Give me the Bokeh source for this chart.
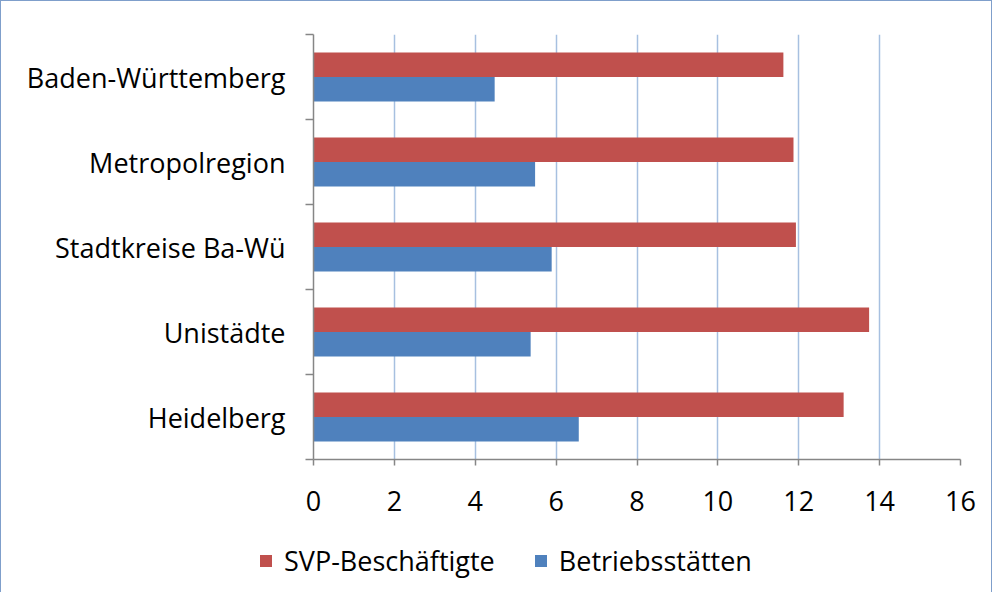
from bokeh.plotting import figure
from bokeh.layouts import column
from bokeh.models import FixedTicker, ColumnDataSource, Range1d, Div
from bokeh.transform import dodge
from bokeh.embed import file_html
from bokeh.resources import INLINE

# ---- data (bottom to top) ----
categories = ["Heidelberg", "Unistädte", "Stadtkreise Ba-Wü", "Metropolregion", "Baden-Württemberg"]
svp_beschaeftigte = [13.11, 13.74, 11.93, 11.87, 11.62]
betriebsstaetten = [6.56, 5.37, 5.89, 5.48, 4.48]
x_ticks = [0, 2, 4, 6, 8, 10, 12, 14, 16]
series_names = ["SVP-Beschäftigte", "Betriebsstätten"]
colors = ["#C0504D", "#4F81BD"]

FONT = "Open Sans"
FS = "27px"
BORDER = "1.5px solid #7f9fcb"
positions = [i + 0.5 for i in range(len(categories))]
boundaries = [i for i in range(len(categories) + 1)]

src = ColumnDataSource(dict(pos=positions, svp=svp_beschaeftigte, bet=betriebsstaetten, cat=categories))

p = figure(width=992, height=540, output_backend="svg", toolbar_location=None,
           x_range=Range1d(0, 16), y_range=Range1d(0, 5),
           min_border_left=312, min_border_right=33, min_border_top=33, min_border_bottom=82)
p.styles = {"border-top": BORDER, "border-left": BORDER, "border-right": BORDER}

bar_h = 0.288
r_svp = p.hbar(y=dodge("pos", bar_h / 2, range=p.y_range), right="svp", left=0, height=bar_h,
               source=src, fill_color=colors[0], line_color=None)
r_bet = p.hbar(y=dodge("pos", -bar_h / 2, range=p.y_range), right="bet", left=0, height=bar_h,
               source=src, fill_color=colors[1], line_color=None)

p.outline_line_color = None
p.ygrid.grid_line_color = None
p.xgrid.ticker = FixedTicker(ticks=x_ticks)
p.xgrid.grid_line_color = "#a7c0e0"
p.xgrid.grid_line_width = 1.5

AX = "#868686"
xa = p.xaxis[0]
xa.ticker = FixedTicker(ticks=x_ticks)
xa.axis_line_color = AX
xa.axis_line_width = 1.5
xa.major_tick_line_color = AX
xa.major_tick_line_width = 1.5
xa.major_tick_out = 6
xa.major_tick_in = 0
xa.minor_tick_line_color = None
xa.major_label_text_font = FONT
xa.major_label_text_font_size = FS
xa.major_label_text_color = "black"
xa.major_label_standoff = 25

ya = p.yaxis[0]
ya.ticker = FixedTicker(ticks=positions, minor_ticks=boundaries)
ya.major_label_overrides = {pp: c for pp, c in zip(positions, categories)}
ya.axis_line_color = AX
ya.axis_line_width = 1.5
ya.major_tick_line_color = None
ya.major_tick_out = 8
ya.major_tick_in = 0
ya.minor_tick_line_color = AX
ya.minor_tick_line_width = 1.5
ya.minor_tick_out = 8
ya.minor_tick_in = 0
ya.major_label_text_font = FONT
ya.major_label_text_font_size = FS
ya.major_label_text_color = "black"
ya.major_label_standoff = 20

# ---- legend strip below the chart ----
items_html = "".join(
    f'<span style="display:inline-block;width:12px;height:12px;background:{c};'
    f'margin-right:12px;vertical-align:middle"></span>'
    f'<span style="vertical-align:middle;margin-right:40px">{name}</span>'
    for name, c in zip(series_names, colors))
legend_html = (f'<div style="padding-left:259px;padding-top:2px;font-family:\'{FONT}\';'
               f'font-size:{FS};line-height:32px;color:black;white-space:nowrap">{items_html}</div>')
lg = Div(text=legend_html, width=992, height=52, margin=0,
         styles={"border-left": BORDER, "border-right": BORDER, "background": "white"})

layout = column(p, lg, spacing=0)
open("out.html", "w").write(file_html(layout, INLINE))
